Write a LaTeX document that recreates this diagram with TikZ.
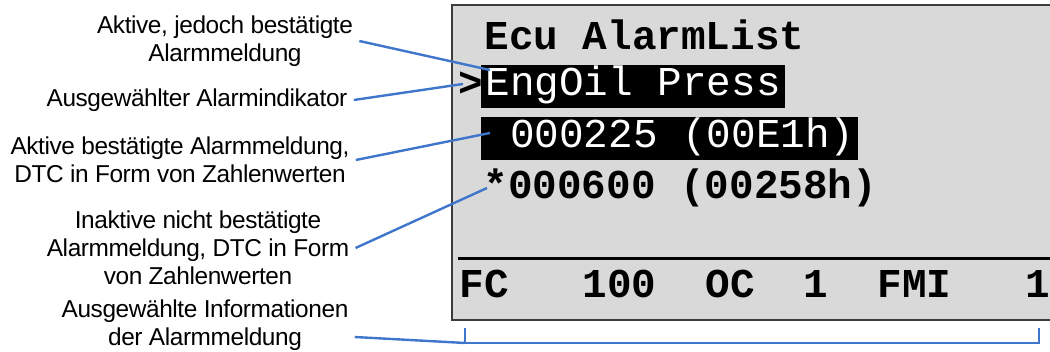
\documentclass[tikz,border=0pt]{standalone}
\usepackage{fontspec}
\setmainfont{Liberation Sans}
\setmonofont{Liberation Mono}
\definecolor{leaderblue}{RGB}{62,118,204}
\definecolor{lcdgray}{RGB}{217,217,217}
\definecolor{lcdframe}{RGB}{60,60,60}
\begin{document}
\begin{tikzpicture}[
  x=0.5pt, y=-0.5pt,
  note/.style={align=center, inner sep=3pt, font=\addfontfeature{LetterSpace=-1.6}\fontsize{12.2}{14}\selectfont},
  lcd/.style={anchor=base west, inner sep=0pt, font=\ttfamily\fontsize{20.5}{24}\selectfont},
  lcdbold/.style={lcd, font=\ttfamily\bfseries\fontsize{20.5}{24}\selectfont},
  inverse/.style={lcd, fill=black, text=white, inner xsep=2pt, text height=15.5pt, text depth=6pt},
  leader/.style={draw=leaderblue, line width=1.2pt}
]
\clip (0,0) rectangle (1050,352);

% display
\draw[fill=lcdgray, draw=lcdframe, line width=1pt] (452,5) rectangle (1062,320);
\draw[line width=1.5pt] (458,259) -- (1062,259);

\node[lcdbold] (title) at (484,50) {Ecu AlarmList};
\node[lcdbold] (cursor) at (458,97) {>};
\node[inverse] (engoil) at (481,96) {EngOil Press};
\node[inverse] (active) at (481,148) {\ 000225 (00E1h)};
\node[lcdbold] (inactive) at (483,199) {*000600 (00258h)};
\node[lcdbold] (infos) at (459,298) {FC\ \ \ 100\ \ OC\ \ 1\ \ FMI\ \ \ 1};

% labels
\node[note] (lbl-acked) at (225,41) {Aktive, jedoch bestätigte\\Alarmmeldung};
\node[note] (lbl-cursor) at (197,100) {Ausgewählter Alarmindikator};
\node[note] (lbl-active) at (180,160) {Aktive bestätigte Alarmmeldung,\\DTC in Form von Zahlenwerten};
\node[note] (lbl-inactive) at (198,248) {Inaktive nicht bestätigte\\Alarmmeldung, DTC in Form\\von Zahlenwerten};
\node[note] (lbl-info) at (205,325) {Ausgewählte Informationen\\der Alarmmeldung};

% leaders
\draw[leader] (lbl-acked.east) -- ([shift={(9,-26)}]engoil.base west);
\draw[leader] (lbl-cursor.east) -- ([shift={(5,-13)}]cursor.base west);
\draw[leader] (lbl-active.east) -- ([shift={(9,-15)}]active.base west);
\draw[leader] (lbl-inactive.east) -- ([shift={(4,-11)}]inactive.base west);

\coordinate (brace-l) at (465,343);
\coordinate (brace-r) at (1039,343);
\draw[leader] ([yshift=-6pt]lbl-info.east) -- (brace-l);
\draw[leader] ([shift={(0,-15)}]brace-l) -- (brace-l) -- (brace-r) -- ++(0,-15);
\end{tikzpicture}
\end{document}
